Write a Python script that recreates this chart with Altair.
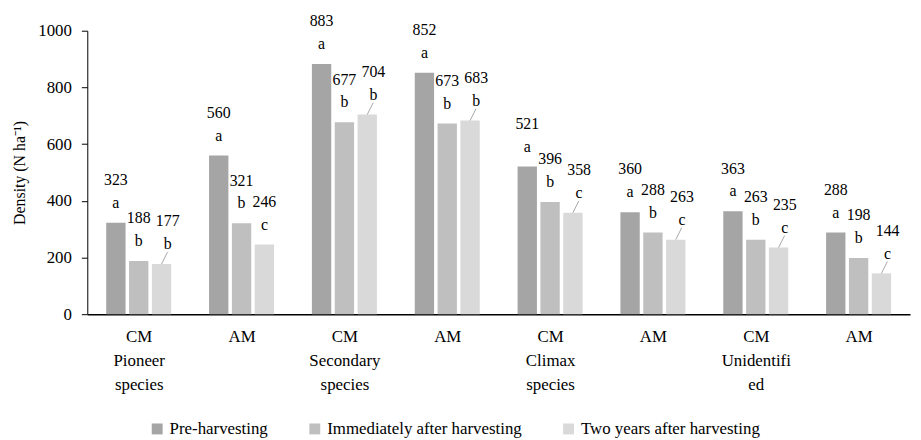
import json
import altair as alt
import pandas as pd

FONT = "Liberation Serif"

groups = ["CM Pioneer species", "AM Pioneer species", "CM Secondary species", "AM Secondary species",
          "CM Climax species", "AM Climax species", "CM Unidentified", "AM Unidentified"]
group_labels = [["CM", "Pioneer", "species"], ["AM"], ["CM", "Secondary", "species"], ["AM"],
                ["CM", "Climax", "species"], ["AM"], ["CM", "Unidentifi", "ed"], ["AM"]]
series = ["Pre-harvesting", "Immediately after harvesting", "Two years after harvesting"]
pre = [323, 560, 883, 852, 521, 360, 363, 288]
imm = [188, 321, 677, 673, 396, 288, 263, 198]
two = [177, 246, 704, 683, 358, 263, 235, 144]
let_pre = ["a", "a", "a", "a", "a", "a", "a", "a"]
let_imm = ["b", "b", "b", "b", "b", "b", "b", "b"]
let_two = ["b", "c", "b", "b", "c", "c", "c", "c"]
colors = ["#a5a5a5", "#bfbfbf", "#d9d9d9"]
y_ticks = [0, 200, 400, 600, 800, 1000]

rows = []
for si, (vals, lets) in enumerate([(pre, let_pre), (imm, let_imm), (two, let_two)]):
    for gi, g in enumerate(groups):
        rows.append({"group": g, "series": series[si], "value": vals[gi], "letter": lets[gi]})
df = pd.DataFrame(rows)

gj = json.dumps(groups)
sj = json.dumps(series)
lj = json.dumps(group_labels)

xscale = alt.Scale(domain=[0, 8], nice=False, zero=False)
yscale = alt.Scale(domain=[0, 1000], nice=False)
xaxis = alt.Axis(values=[0.5 + i for i in range(8)], labelExpr=f"{lj}[floor(datum.value)]",
                 ticks=False, tickSize=0, grid=False, domainColor="#000000", domainWidth=1.5,
                 labelPadding=15, labelLineHeight=24, labelFontSize=17, labelFont=FONT,
                 labelColor="#000000", title=None, labelAngle=0)
yaxis = alt.Axis(values=y_ticks, format="d", grid=False, domainColor="#000000", domainWidth=1,
                 tickColor="#000000", tickSize=6, labelPadding=10, labelFontSize=17, labelFont=FONT,
                 labelColor="#000000", title="Density (N ha⁻¹)", titleFont=FONT, titleFontSize=16,
                 titleFontWeight="normal", titleColor="#000000", titleX=-68, titleY=143,
                 titleBaseline="middle", titleAngle=-90)

base = alt.Chart(df).transform_calculate(
    gi=f"indexof({gj}, datum.group)",
    si=f"indexof({sj}, datum.series)",
).transform_calculate(
    xc="datum.gi + 0.5 + (datum.si - 1) * 0.222",
    lead="datum.si == 2 && datum.gi != 1",
).transform_calculate(
    xl="datum.xc - 0.094",
    xr="datum.xc + 0.094",
    xt="datum.xc + (datum.lead ? 0.06 : 0)",
)

bars = base.mark_bar().encode(
    x=alt.X("xl:Q", scale=xscale, axis=xaxis),
    x2="xr:Q",
    y=alt.Y("value:Q", scale=yscale, axis=yaxis),
    y2=alt.datum(0),
    color=alt.Color("series:N", scale=alt.Scale(domain=series, range=colors),
                    legend=alt.Legend(title=None, orient="none", direction="horizontal",
                                      legendX=62, legendY=393, symbolType="square",
                                      symbolSize=121, symbolStrokeWidth=0, labelFont=FONT,
                                      labelFontSize=17, labelColor="#000000", columnPadding=38,
                                      labelOffset=4, labelLimit=0)),
)

letters = base.mark_text(dy=-20, fontSize=16, font=FONT, color="#000000", baseline="middle").encode(
    x=alt.X("xt:Q", scale=xscale, axis=xaxis),
    y=alt.Y("value:Q", scale=yscale, axis=yaxis),
    text="letter:N",
)
values = base.mark_text(dy=-43, fontSize=16, font=FONT, color="#000000", baseline="middle").encode(
    x=alt.X("xt:Q", scale=xscale, axis=xaxis),
    y=alt.Y("value:Q", scale=yscale, axis=yaxis),
    text="value:Q",
)
leaders = base.transform_filter("datum.lead").mark_rule(
    color="#a6a6a6", strokeWidth=1, x2Offset=6, y2Offset=-12
).encode(
    x=alt.X("xc:Q", scale=xscale, axis=xaxis),
    x2="xc:Q",
    y=alt.Y("value:Q", scale=yscale, axis=yaxis),
    y2="value:Q",
)

chart = alt.layer(bars, leaders, letters, values).properties(
    width=830, height=286,
    autosize=alt.AutoSizeParams(type="none"),
    padding={"left": 80, "top": 21, "right": 3, "bottom": 125},
    background="#ffffff",
).configure_view(stroke=None).configure_axis(
    labelFont=FONT, titleFont=FONT
).configure_legend(labelFont=FONT).configure_text(font=FONT)

chart.save("out.html", embed_options={"renderer": "svg", "actions": False})
